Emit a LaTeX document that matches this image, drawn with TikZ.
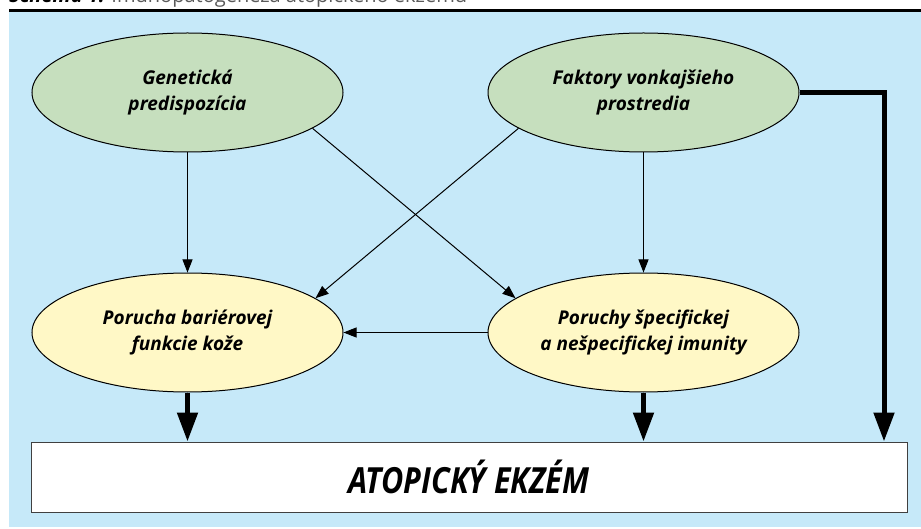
\documentclass[tikz,border=0pt]{standalone}
\usepackage{fontspec}
\setmainfont{Open Sans}
\newfontfamily\condfont[FakeStretch=0.85]{Open Sans}
\usetikzlibrary{shapes.geometric,arrows.meta}
\definecolor{bgblue}{RGB}{198,233,249}
\definecolor{causegreen}{RGB}{198,223,190}
\definecolor{effectyellow}{RGB}{255,248,198}
\definecolor{captiongray}{RGB}{90,90,90}
\begin{document}
\begin{tikzpicture}[x=1pt,y=1pt,
    cause/.style={ellipse,draw,line width=1pt,fill=causegreen,minimum width=311pt,minimum height=119pt,inner sep=0pt,align=center,font=\fontsize{19}{26}\selectfont\bfseries\itshape},
    effect/.style={cause,fill=effectyellow},
    linkarrow/.style={-{Triangle[length=13pt,width=10pt]},line width=1pt},
    mainarrow/.style={-{Triangle[length=29pt,width=20pt]},line width=5pt}]
    \useasboundingbox (0,0) rectangle (921,528);
    \fill[bgblue] (9,1) rectangle (921,516);
    \draw[line width=2.5pt] (9,517.5) -- (921,517.5);
    \node[anchor=base west,inner sep=0pt,font=\fontsize{20}{22}\selectfont] (caption) at (9,525) {{\bfseries\itshape Schéma 1.} \textcolor{captiongray}{Imunopatogenéza atopického ekzému}};
    \node[cause] (gen) at (187.5,435.5) {Genetická\\predispozícia};
    \node[cause] (env) at (643.5,435.5) {Faktory vonkajšieho\\prostredia};
    \node[effect] (skin) at (187.5,195.5) {Porucha bariérovej\\funkcie kože};
    \node[effect] (imm) at (643.5,195.5) {Poruchy špecifickej\\a nešpecifickej imunity};
    \node[draw=black!75,line width=1pt,fill=white,minimum width=876pt,minimum height=70pt,inner sep=0pt,font=\fontsize{36}{40}\condfont\bfseries\itshape] (ekzem) at (469,51) {ATOPICKÝ EKZÉM};
    \coordinate (corner) at (884,435.5);
    \draw[linkarrow] (gen) -- (skin);
    \draw[linkarrow] (env) -- (imm);
    \draw[linkarrow] (gen.-16) -- (imm.165);
    \draw[linkarrow] (env.196) -- (skin.15);
    \draw[linkarrow] (imm) -- (skin);
    \draw[mainarrow] (skin) -- (skin |- ekzem.north);
    \draw[mainarrow] (imm) -- (imm |- ekzem.north);
    \draw[mainarrow] (env) -- (corner) -- (corner |- ekzem.north);
\end{tikzpicture}
\end{document}
